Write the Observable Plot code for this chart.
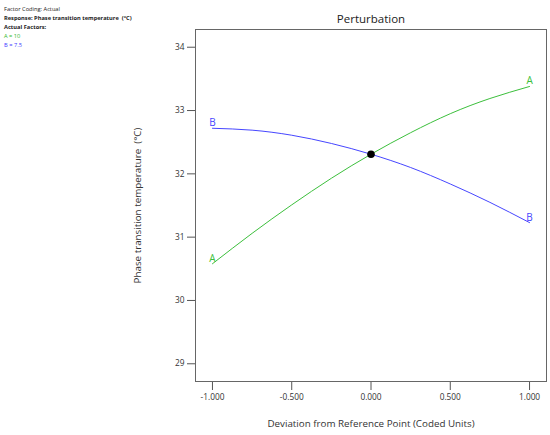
<!DOCTYPE html>
<html>
<head>
<meta charset="utf-8">
<script src="https://cdn.jsdelivr.net/npm/d3@7"></script>
<script src="https://cdn.jsdelivr.net/npm/@observablehq/plot@0.6"></script>
<style>
  html, body { margin: 0; padding: 0; background: #fff; }
  #wrap { position: relative; width: 550px; height: 435px; font-family: "Open Sans", sans-serif; }
  #info { position: absolute; left: 4px; top: 5px; font-size: 5.7px; line-height: 9px; color: #222; }
  #info .b { font-weight: bold; }
  #chart { position: absolute; left: 0; top: 0; }
</style>
</head>
<body>
<div id="wrap">
  <div id="chart"></div>
  <div id="info">
    <div>Factor Coding: Actual</div>
    <div class="b">Response: Phase transition temperature&nbsp; (°C)</div>
    <div class="b">Actual Factors:</div>
    <div style="color:#2db82d">A = 10</div>
    <div style="color:#3a3aff">B = 7.5</div>
  </div>
</div>
<script>
// Data
const deviation = [-1, -0.75, -0.5, -0.25, 0, 0.25, 0.5, 0.75, 1];
const seriesA = [30.58, 31.06, 31.51, 31.93, 32.31, 32.65, 32.95, 33.19, 33.38];
const seriesB = [32.72, 32.69, 32.61, 32.48, 32.31, 32.10, 31.84, 31.55, 31.23];
const refPoint = [{x: 0, y: 32.31}];
const yTicks = [29, 30, 31, 32, 33, 34];
const xTicks = [-1, -0.5, 0, 0.5, 1];

const colorA = "#3cbf3c";
const colorB = "#4646ff";

const dataA = deviation.map((x, i) => ({x, y: seriesA[i]}));
const dataB = deviation.map((x, i) => ({x, y: seriesB[i]}));
const labels = [
  {x: deviation[0], y: seriesA[0], t: "A", c: colorA},
  {x: deviation[deviation.length - 1], y: seriesA[seriesA.length - 1], t: "A", c: colorA},
  {x: deviation[0], y: seriesB[0], t: "B", c: colorB},
  {x: deviation[deviation.length - 1], y: seriesB[seriesB.length - 1], t: "B", c: colorB}
];

const chart = Plot.plot({
  width: 550,
  height: 435,
  marginLeft: 195,
  marginRight: 4,
  marginTop: 29,
  marginBottom: 54,
  style: {fontFamily: "Open Sans, sans-serif", background: "#fff"},
  x: {domain: [-1.107, 1.107]},
  y: {domain: [28.72, 34.28]},
  marks: [
    Plot.axisY({ticks: yTicks, tickSize: 8, tickPadding: 3, fontSize: 8.3, tickFormat: d => String(d), label: null, stroke: "#555", color: "#333"}),
    Plot.axisX({ticks: xTicks, tickSize: 9, tickPadding: 4, fontSize: 8.3, tickFormat: d => d.toFixed(3), label: null, stroke: "#555", color: "#333"}),
    Plot.frame({stroke: "#666", strokeWidth: 1}),
    Plot.line(dataA, {x: "x", y: "y", stroke: colorA, strokeWidth: 1, curve: "natural"}),
    Plot.line(dataB, {x: "x", y: "y", stroke: colorB, strokeWidth: 1, curve: "natural"}),
    Plot.text(labels, {x: "x", y: "y", text: "t", fill: "c", fontSize: 10, lineAnchor: "bottom", dy: -2}),
    Plot.dot(refPoint, {x: "x", y: "y", r: 3.8, fill: "black"}),
    Plot.text(["Perturbation"], {frameAnchor: "top", dy: -10, lineAnchor: "middle", textAnchor: "middle", fontSize: 11.5, fill: "#222"}),
    Plot.text(["Deviation from Reference Point (Coded Units)"], {frameAnchor: "bottom", dy: 42, lineAnchor: "middle", textAnchor: "middle", fontSize: 9.8, fill: "#333"}),
    Plot.text(["Phase transition temperature  (°C)"], {frameAnchor: "left", dx: -58, rotate: -90, lineAnchor: "middle", textAnchor: "middle", fontSize: 9.8, fill: "#333"})
  ]
});
document.getElementById("chart").appendChild(chart);
</script>
</body>
</html>
